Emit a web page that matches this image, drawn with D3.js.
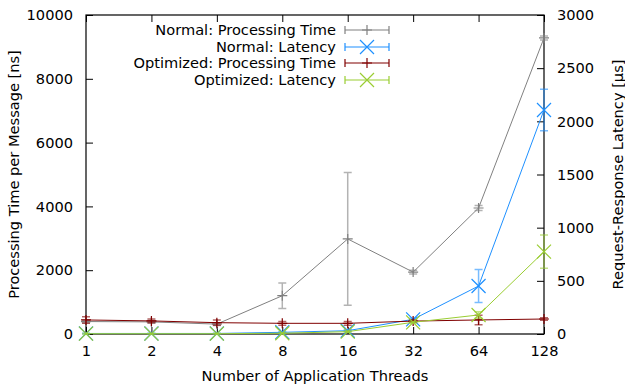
<!DOCTYPE html>
<html><head><meta charset="utf-8">
<script src="https://cdn.jsdelivr.net/npm/d3@7"></script>
<style>body{margin:0;background:#fff}text{font-family:"DejaVu Sans",sans-serif;fill:#000}</style>
</head><body><svg id="c" width="625" height="387"></svg>
<script>
const threads = [1, 2, 4, 8, 16, 32, 64, 128];
const normalProc = [390, 380, 310, 1200, 2980, 1940, 3950, 9280];
const normalProcErr = [40, 40, 40, 400, 2080, 60, 80, 60];
const normalLat = [5, 5, 5, 16, 31, 138, 451, 2107];
const normalLatErr = [3, 3, 3, 5, 8, 10, 155, 195];
const optProc = [440, 410, 355, 335, 335, 405, 440, 470];
const optProcErr = [100, 60, 80, 60, 60, 40, 150, 40];
const optLat = [3, 3, 3, 7, 22, 110, 179, 774];
const optLatErr = [2, 2, 2, 3, 5, 8, 30, 156];
const yTicks = [0, 2000, 4000, 6000, 8000, 10000];
const y2Ticks = [0, 500, 1000, 1500, 2000, 2500, 3000];
const seriesNames = ["Normal: Processing Time", "Normal: Latency", "Optimized: Processing Time", "Optimized: Latency"];
const seriesColors = ["#808080", "#1e90ff", "#800000", "#9acd32"];

const svg = d3.select("#c");
const L = 86, R = 544, T = 15, B = 334;
const x = d3.scaleLog().base(2).domain([1, 128]).range([L, R]);
const y = d3.scaleLinear().domain([0, 10000]).range([B, T]);
const y2 = d3.scaleLinear().domain([0, 3000]).range([B, T]);
const FS = 14.6;

// axes
const gL = svg.append("g").attr("transform", `translate(${L},0)`)
  .call(d3.axisLeft(y).tickValues(yTicks).tickSize(-7).tickPadding(13).tickFormat(d3.format("d")));
const gR = svg.append("g").attr("transform", `translate(${R},0)`)
  .call(d3.axisRight(y2).tickValues(y2Ticks).tickSize(-7).tickPadding(13).tickFormat(d3.format("d")));
const gB = svg.append("g").attr("transform", `translate(0,${B})`)
  .call(d3.axisBottom(x).tickValues(threads).tickSize(-7).tickPadding(12).tickFormat(d3.format("d")));
const gT = svg.append("g").attr("transform", `translate(0,${T})`)
  .call(d3.axisTop(x).tickValues(threads).tickSize(-7).tickFormat(""));
[gL, gR, gB, gT].forEach(g => {
  g.select(".domain").remove();
  g.selectAll("line").attr("stroke", "#000");
  g.selectAll("text").attr("font-size", FS).attr("font-family", "DejaVu Sans");
});
svg.append("rect").attr("x", L).attr("y", T).attr("width", R - L).attr("height", B - T)
  .attr("fill", "none").attr("stroke", "#000").attr("stroke-width", 1.2);

// labels
svg.append("text").attr("x", (L + R) / 2).attr("y", 381).attr("text-anchor", "middle")
  .attr("font-size", FS).text("Number of Application Threads");
svg.append("text").attr("transform", `translate(19,${(T + B) / 2}) rotate(-90)`).attr("text-anchor", "middle")
  .attr("font-size", FS).text("Processing Time per Message [ns]");
svg.append("text").attr("transform", `translate(623,${(T + B) / 2}) rotate(-90)`).attr("text-anchor", "middle")
  .attr("font-size", FS).text("Request-Response Latency [µs]");

function marker(g, cx, cy, type, color, s) {
  if (type === "+") {
    g.append("path").attr("d", `M${cx - s},${cy}H${cx + s}M${cx},${cy - s}V${cy + s}`)
      .attr("stroke", color).attr("stroke-width", 1.2).attr("fill", "none");
  } else {
    g.append("path").attr("d", `M${cx - s},${cy - s}L${cx + s},${cy + s}M${cx - s},${cy + s}L${cx + s},${cy - s}`)
      .attr("stroke", color).attr("stroke-width", 1.2).attr("fill", "none");
  }
}

const series = [
  { vals: normalProc, err: normalProcErr, sc: y, type: "+", size: 5 },
  { vals: normalLat, err: normalLatErr, sc: y2, type: "x", size: 7 },
  { vals: optProc, err: optProcErr, sc: y, type: "+", size: 5 },
  { vals: optLat, err: optLatErr, sc: y2, type: "x", size: 7 }
];

series.forEach((s, i) => {
  const color = seriesColors[i];
  const g = svg.append("g");
  // error bars
  threads.forEach((t, j) => {
    const cx = x(t), y0 = s.sc(s.vals[j] - s.err[j]), y1 = s.sc(s.vals[j] + s.err[j]);
    g.append("path").attr("d", `M${cx},${y0}V${y1}M${cx - 4},${y0}H${cx + 4}M${cx - 4},${y1}H${cx + 4}`)
      .attr("stroke", color).attr("stroke-width", 1.5).attr("stroke-opacity", 0.6).attr("fill", "none");
  });
  const line = d3.line().x((d, j) => x(threads[j])).y(d => s.sc(d));
  g.append("path").attr("d", line(s.vals)).attr("stroke", color).attr("stroke-width", 1).attr("fill", "none");
  threads.forEach((t, j) => marker(g, x(t), s.sc(s.vals[j]), s.type, color, s.size));
});

// legend
const legY = [30, 47, 63, 80];
seriesNames.forEach((n, i) => {
  const yy = legY[i], color = seriesColors[i];
  svg.append("text").attr("x", 336).attr("y", yy).attr("dy", "0.35em").attr("text-anchor", "end")
    .attr("font-size", FS).text(n);
  const g = svg.append("g");
  g.append("path").attr("d", `M345,${yy}H389M345,${yy - 4}V${yy + 4}M389,${yy - 4}V${yy + 4}`)
    .attr("stroke", color).attr("stroke-width", 1.2).attr("fill", "none");
  marker(g, 367, yy, series[i].type, color, series[i].size);
});
</script></body></html>
